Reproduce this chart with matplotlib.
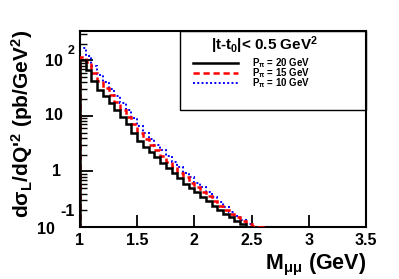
import numpy as np
import matplotlib
matplotlib.use("Agg")
import matplotlib.pyplot as plt
from matplotlib.ticker import FixedLocator, NullFormatter, NullLocator

plt.rcParams['font.family'] = ['Liberation Sans', 'DejaVu Sans']
plt.rcParams['font.weight'] = 'bold'
plt.rcParams['mathtext.fontset'] = 'custom'
plt.rcParams['mathtext.rm'] = 'Liberation Sans:bold'
plt.rcParams['mathtext.bf'] = 'Liberation Sans:bold'
plt.rcParams['mathtext.it'] = 'Liberation Sans:bold'
plt.rcParams['mathtext.default'] = 'rm'

# Histogram contents (pb/GeV^2), bins of 0.05 GeV starting at M = 1.0 GeV
bin_width = 0.05
m_start = 1.0
black_vals = [100, 68, 42, 29, 23, 17, 13, 9.5, 7.0, 5.0,
              3.6, 2.8, 2.2, 1.8, 1.4, 1.15, 0.95, 0.75, 0.60, 0.50,
              0.42, 0.35, 0.29, 0.24, 0.20, 0.17, 0.15, 0.13, 0.115, 0.10]
red_vals = [115, 92, 60, 42, 32, 24, 18, 13, 9.5, 7.0,
            5.0, 3.8, 3.0, 2.4, 1.9, 1.5, 1.2, 0.95, 0.78, 0.63,
            0.52, 0.43, 0.36, 0.29, 0.24, 0.20, 0.17, 0.15, 0.13, 0.115,
            0.105, 0.10]
blue_vals = [165, 120, 78, 55, 40, 30, 23, 17, 12.5, 9.0,
             6.5, 5.0, 3.8, 3.0, 2.4, 1.9, 1.5, 1.2, 0.95, 0.78,
             0.63, 0.52, 0.42, 0.34, 0.28, 0.23, 0.19, 0.16, 0.135, 0.115,
             0.10]
labels = [r'P$_{\pi}$ = 20 GeV', r'P$_{\pi}$ = 15 GeV', r'P$_{\pi}$ = 10 GeV']

W, H = 399, 279
fig = plt.figure(figsize=(W / 100, H / 100), dpi=100)
ax = fig.add_axes([80 / W, 1 - 227 / H, 286 / W, 196 / H])


def edges_for(vals):
    return m_start + bin_width * np.arange(len(vals) + 1)


ax.stairs(blue_vals, edges_for(blue_vals), baseline=1e-3, color='blue',
          linestyle=(0, (1, 1.2)), linewidth=1.4, zorder=2)
ax.stairs(red_vals, edges_for(red_vals), baseline=1e-3, color='red',
          linestyle=(0, (2.5, 1.5)), linewidth=1.8, zorder=3)
ax.stairs(black_vals, edges_for(black_vals), baseline=1e-3, color='black',
          linestyle='-', linewidth=1.8, zorder=4)

ax.set_yscale('log')
ax.set_xlim(1.0, 3.5)
ax.set_ylim(0.1, 10 ** (139 / 55))

for s in ax.spines.values():
    s.set_linewidth(1.5)

ax.xaxis.set_major_locator(FixedLocator([1.0, 1.5, 2.0, 2.5, 3.0, 3.5]))
ax.xaxis.set_minor_locator(NullLocator())
ax.set_xticklabels(['1', '1.5', '2', '2.5', '3', '3.5'], fontsize=11.5, fontweight='bold')
ax.tick_params(axis='x', which='major', direction='in', length=9, width=1.3, pad=4)

ax.yaxis.set_major_locator(FixedLocator([0.1, 1, 10, 100]))
minors = [k * d for d in (0.1, 1, 10, 100) for k in range(2, 10)]
ax.yaxis.set_minor_locator(FixedLocator(minors))
ax.yaxis.set_major_formatter(NullFormatter())
ax.yaxis.set_minor_formatter(NullFormatter())
ax.tick_params(axis='y', which='major', direction='in', length=9, width=1.3)
ax.tick_params(axis='y', which='minor', direction='in', length=5, width=1.0)


def px(x, y):
    return x / W, 1 - y / H


# ROOT-style y tick labels
fs = 11.5
fig.text(*px(63, 62), '10', fontsize=fs, fontweight='bold', ha='right', va='center')
fig.text(*px(68, 51), '2', fontsize=9, fontweight='bold', ha='left', va='center')
fig.text(*px(63, 115), '10', fontsize=fs, fontweight='bold', ha='right', va='center')
fig.text(*px(61, 171), '1', fontsize=fs, fontweight='bold', ha='right', va='center')
fig.text(*px(75, 212), '-1', fontsize=fs, fontweight='bold', ha='right', va='center')
fig.text(*px(55, 229), '10', fontsize=fs, fontweight='bold', ha='right', va='center')

# axis titles
fig.text(*px(366, 265), r'M$_{\mu\mu}$ (GeV)', fontsize=15.5, fontweight='bold',
         ha='right', va='center')
fig.text(*px(22, 30), r"d$\sigma_{L}$/dQ$'^{2}$ (pb/GeV$^{2}$)", fontsize=15,
         fontweight='bold', ha='center', va='top', rotation=90)

# legend box
box = plt.Rectangle(px(180, 110), 186 / W, 79 / H, transform=fig.transFigure,
                    fill=False, edgecolor='black', linewidth=1.0, zorder=5)
fig.add_artist(box)
fig.text(*px(264, 45), r'|t-t$_{0}$|< 0.5 GeV$^{2}$', fontsize=11,
         fontweight='bold', ha='center', va='center')

styles = [dict(color='black', linestyle='-', linewidth=1.8),
          dict(color='red', linestyle=(0, (2.5, 1.5)), linewidth=1.8),
          dict(color='blue', linestyle=(0, (1, 1.2)), linewidth=1.4)]
rows = [63, 73, 83]
for lab, st, yy in zip(labels, styles, rows):
    x0, y0 = px(193, yy)
    x1, _ = px(238, yy)
    fig.add_artist(plt.Line2D([x0, x1], [y0, y0], transform=fig.transFigure, **st))
    fig.text(*px(252, yy), lab, fontsize=7, fontweight='bold', ha='left', va='center')

fig.savefig('out.png', dpi=100)
